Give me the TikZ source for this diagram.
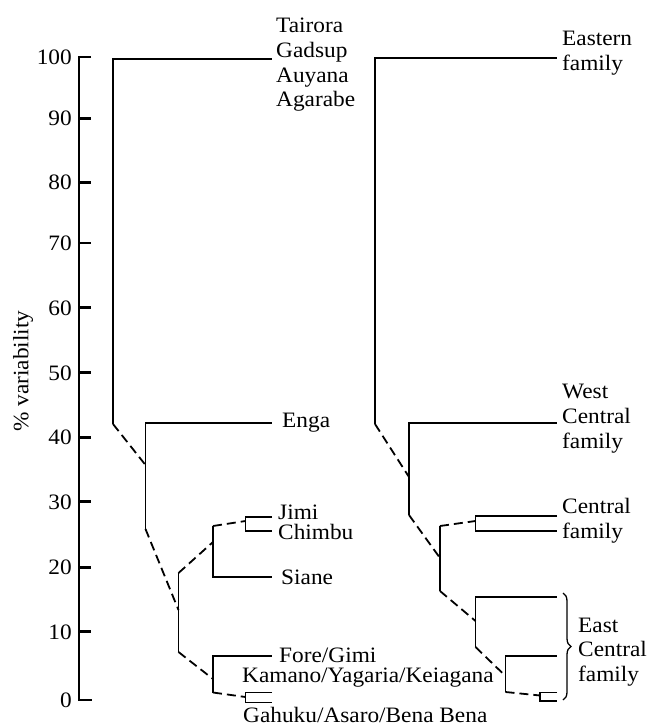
\documentclass[tikz,border=0pt]{standalone}
\usepackage{fontspec}
\setmainfont{Liberation Serif}[FakeStretch=1.06]
\usetikzlibrary{decorations.pathreplacing,calc}

\begin{document}
\begin{tikzpicture}[
x=1pt,y=-1pt,
axis/.style={
  line width=2.5pt
},
branch/.style={
  line width=1.8pt
},
link/.style={
  line width=1.8pt,
  dash pattern=on 9pt off 5pt
},
lang/.style={
  anchor=west,
  inner sep=0pt,
  align=left,
  font=\rmfamily\fontsize{22}{24.7}\selectfont
},
ticklab/.style={
  anchor=east,
  inner sep=0pt,
  text height=15pt,
  text depth=0pt,
  font=\rmfamily\fontsize{22}{24.7}\selectfont
}
]
\useasboundingbox (0,0) rectangle (646,728);

% scale
\draw[axis] (91,57) -- (79,57) -- (79,700) -- (92,700);
\foreach \v/\y in {0/700,10/631.7,20/567.3,30/501.7,40/437.3,50/372.7,
                   60/307.7,70/243,80/182.3,90/118.3,100/57} {
  \draw[axis] (79,\y) -- (91,\y);
  \node[ticklab] (t\v) at (72,\y) {\v};
}
\node[lang,anchor=center,rotate=90] (ylab) at (23,371) {\% variability};

% ends of the branches
\coordinate (Lend) at (272,0);
\coordinate (Rend) at (557,0);

% languages
\coordinate (a0) at (113,59);
\coordinate (a1) at (113,424);
\coordinate (b0) at (145.5,423);
\coordinate (b1) at (145.5,465);
\coordinate (b2) at (145.5,529);
\coordinate (c0) at (178.5,573);
\coordinate (c1) at (178.5,610);
\coordinate (c2) at (178.5,652);
\coordinate (d0) at (213,526);
\coordinate (d1) at (213,542);
\coordinate (d2) at (213,577);
\coordinate (e0) at (245.5,517);
\coordinate (e1) at (245.5,531);
\coordinate (e2) at (245.5,521);
\coordinate (f0) at (213,656);
\coordinate (f1) at (213,679);
\coordinate (f2) at (213,692.5);
\coordinate (g0) at (245.5,692.5);
\coordinate (g1) at (245.5,702.5);
\coordinate (g2) at (245.5,697);

\draw[branch] (a1) -- (a0) -- (a0 -| Lend);
\draw[branch] (b2) -- (b0) -- (b0 -| Lend);
\draw[branch] (c0) -- (c2);
\draw[branch] (d0) -- (d2) -- (d2 -| Lend);
\draw[branch] (e0 -| Lend) -- (e0) -- (e1) -- (e1 -| Lend);
\draw[branch] (f2) -- (f0) -- (f0 -| Lend);
\draw[branch] (g0 -| Lend) -- (g0) -- (g1) -- (g1 -| Lend);

\draw[link] (a1) -- (b1);
\draw[link] (b2) -- (c1);
\draw[link] (c0) -- (d1);
\draw[link] (d0) -- (e2);
\draw[link] (c2) -- (f1);
\draw[link] (f2) -- (g2);

\node[lang] (tairora) at (276,65) {Tairora\\Gadsup\\Auyana\\Agarabe};
\node[lang] (enga) at (282,423) {Enga};
\node[lang] (jimi) at (278,512) {Jimi};
\node[lang] (chimbu) at (278,532) {Chimbu};
\node[lang] (siane) at (281,577) {Siane};
\node[lang] (fore) at (279,655) {Fore/Gimi};
\node[lang] (kamano) at (242,678) {Kamano/Yagaria/Keiagana};
\node[lang] (gahuku) at (243,715) {Gahuku/Asaro/Bena Bena};

% families
\coordinate (p0) at (375,58);
\coordinate (p1) at (375,424);
\coordinate (q0) at (409,423);
\coordinate (q1) at (409,477);
\coordinate (q2) at (409,515);
\coordinate (r0) at (440,526);
\coordinate (r1) at (440,558);
\coordinate (r2) at (440,591);
\coordinate (s0) at (475.5,516);
\coordinate (s1) at (475.5,531);
\coordinate (s2) at (475.5,521);
\coordinate (u0) at (475.5,597);
\coordinate (u1) at (475.5,621);
\coordinate (u2) at (475.5,647);
\coordinate (w0) at (505.5,656);
\coordinate (w1) at (505.5,676);
\coordinate (w2) at (505.5,692);
\coordinate (z0) at (540,692.5);
\coordinate (z1) at (540,701);
\coordinate (z2) at (540,695.5);

\draw[branch] (p1) -- (p0) -- (p0 -| Rend);
\draw[branch] (q2) -- (q0) -- (q0 -| Rend);
\draw[branch] (r0) -- (r2);
\draw[branch] (s0 -| Rend) -- (s0) -- (s1) -- (s1 -| Rend);
\draw[branch] (u2) -- (u0) -- (u0 -| Rend);
\draw[branch] (w2) -- (w0) -- (w0 -| Rend);
\draw[branch] (z0 -| Rend) -- (z0) -- (z1) -- (z1 -| Rend);

\draw[link] (p1) -- (q1);
\draw[link] (q2) -- (r1);
\draw[link] (r0) -- (s2);
\draw[link] (r2) -- (u1);
\draw[link] (u2) -- (w1);
\draw[link] (w2) -- (z2);

\node[lang] (eastern) at (562,53) {Eastern\\family};
\node[lang] (westc) at (562,418.5) {West\\Central\\family};
\node[lang] (centralf) at (562,521) {Central\\family};
\node[lang] (eastc) at (578,652) {East\\Central\\family};

\coordinate (br0) at (563,593);
\coordinate (br1) at (563,700);
\draw[line width=1.3pt,decorate,decoration={brace,amplitude=8pt}]
  (br0) -- (br1);
\end{tikzpicture}
\end{document}
